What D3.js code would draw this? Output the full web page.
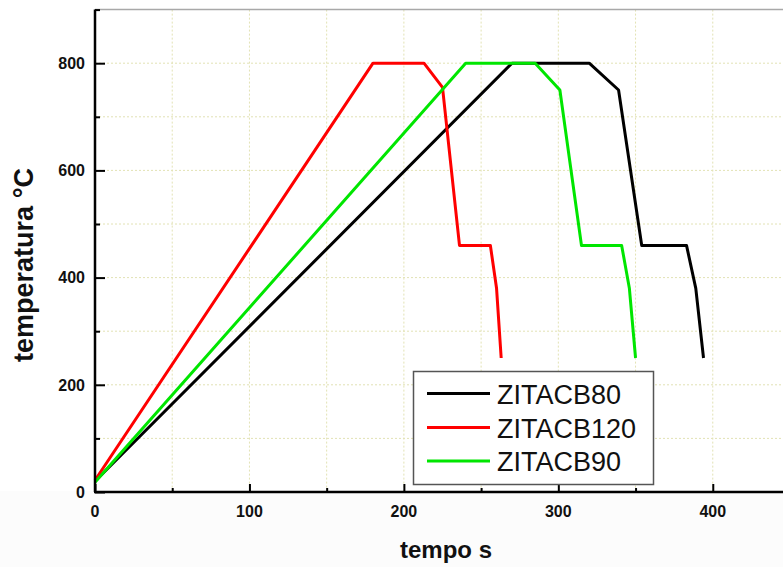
<!DOCTYPE html>
<html>
<head>
<meta charset="utf-8">
<script src="https://cdn.jsdelivr.net/npm/d3@7"></script>
<style>
  html, body { margin: 0; padding: 0; background: #ffffff; }
  svg { display: block; font-family: "Liberation Sans", Arial, sans-serif; }
</style>
</head>
<body>
<svg id="chart" width="783" height="567"></svg>
<script>
// Thermal cycles: time (s) vs temperature (°C)
const seriesNames = ["ZITACB80", "ZITACB120", "ZITACB90"];
const seriesColors = ["#000000", "#ff0000", "#00e600"];

const timeZITACB80 = [0, 270, 320, 339, 354, 383, 389, 394];
const tempZITACB80 = [20, 800, 800, 750, 460, 460, 380, 250];

const timeZITACB120 = [0, 180, 213, 225, 236, 256, 260, 263];
const tempZITACB120 = [22, 800, 800, 755, 460, 460, 380, 250];

const timeZITACB90 = [0, 240, 285, 301, 315, 341, 346, 350];
const tempZITACB90 = [18, 800, 800, 750, 460, 460, 380, 250];

const xMajorTicks = [0, 100, 200, 300, 400];
const yMajorTicks = [0, 200, 400, 600, 800];

const series = [
  { name: seriesNames[0], color: seriesColors[0], t: timeZITACB80, T: tempZITACB80 },
  { name: seriesNames[1], color: seriesColors[1], t: timeZITACB120, T: tempZITACB120 },
  { name: seriesNames[2], color: seriesColors[2], t: timeZITACB90, T: tempZITACB90 }
];

const svg = d3.select("#chart");

const x = d3.scaleLinear().domain([0, 450]).range([95, 790]);
const y = d3.scaleLinear().domain([0, 900]).range([492, 9.6]);

// faint backdrop below the plot
svg.append("rect").attr("x", 0).attr("y", 491).attr("width", 783).attr("height", 76).attr("fill", "#fcfcfc");

// dotted grid every 50 s and every 100 °C
const gridX = d3.range(50, 451, 50);
const gridY = d3.range(100, 900, 100);
const grid = svg.append("g").attr("stroke", "#e2e2b4").attr("stroke-width", 1).attr("stroke-dasharray", "2,2");
grid.selectAll("line.gx").data(gridX).join("line").attr("class", "gx")
  .attr("x1", d => x(d)).attr("x2", d => x(d)).attr("y1", y(900)).attr("y2", y(0));
grid.selectAll("line.gy").data(gridY).join("line").attr("class", "gy")
  .attr("x1", x(0)).attr("x2", x(450)).attr("y1", d => y(d)).attr("y2", d => y(d));

// top frame
svg.append("line").attr("x1", x(0)).attr("x2", x(450)).attr("y1", y(900)).attr("y2", y(900))
  .attr("stroke", "#a8a8a8").attr("stroke-width", 1.5);

// curves
const line = d3.line().x(d => x(d[0])).y(d => y(d[1]));
svg.append("g").selectAll("path").data(series).join("path")
  .attr("d", s => line(s.t.map((v, i) => [v, s.T[i]])))
  .attr("fill", "none").attr("stroke", s => s.color).attr("stroke-width", 3)
  .attr("stroke-linejoin", "round");

// axes with inward ticks
const xAxisMinor = d3.axisTop(x).tickValues(d3.range(50, 451, 100)).tickSize(4).tickFormat("");
const xAxisMajor = d3.axisTop(x).tickValues(xMajorTicks).tickSize(8).tickFormat("");
const yAxisMinor = d3.axisRight(y).tickValues(d3.range(100, 901, 200)).tickSize(5).tickFormat("");
const yAxisMajor = d3.axisRight(y).tickValues(yMajorTicks).tickSize(10).tickFormat("");

function styleAxis(g) {
  g.selectAll("path").remove();
  g.selectAll("line").attr("stroke", "#000").attr("stroke-width", 2);
}
svg.append("g").attr("transform", `translate(0,${y(0)})`).call(xAxisMinor).call(styleAxis);
svg.append("g").attr("transform", `translate(0,${y(0)})`).call(xAxisMajor).call(styleAxis);
svg.append("g").attr("transform", `translate(${x(0)},0)`).call(yAxisMinor).call(styleAxis);
svg.append("g").attr("transform", `translate(${x(0)},0)`).call(yAxisMajor).call(styleAxis);

// axis lines
svg.append("line").attr("x1", x(0) - 1).attr("x2", 783).attr("y1", y(0)).attr("y2", y(0))
  .attr("stroke", "#000").attr("stroke-width", 2.5);
svg.append("line").attr("x1", x(0)).attr("x2", x(0)).attr("y1", y(0)).attr("y2", y(900))
  .attr("stroke", "#000").attr("stroke-width", 2.5);

// tick labels
svg.append("g").selectAll("text").data(xMajorTicks).join("text")
  .attr("x", d => x(d)).attr("y", 517).attr("text-anchor", "middle")
  .attr("font-size", 16).attr("font-weight", "bold").attr("fill", "#111").text(d => d);
svg.append("g").selectAll("text").data(yMajorTicks).join("text")
  .attr("x", 85).attr("y", d => y(d) + 5.7).attr("text-anchor", "end")
  .attr("font-size", 16).attr("font-weight", "bold").attr("fill", "#111").text(d => d);

// axis titles
svg.append("text").attr("x", 446).attr("y", 558).attr("text-anchor", "middle")
  .attr("font-size", 24).attr("font-weight", "bold").attr("fill", "#111").text("tempo s");
svg.append("text").attr("transform", "translate(33,265) rotate(-90)").attr("text-anchor", "middle")
  .attr("font-size", 27).attr("font-weight", "bold").attr("fill", "#111").text("temperatura °C");

// legend
const legend = svg.append("g");
legend.append("rect").attr("x", 413.5).attr("y", 371.5).attr("width", 240).attr("height", 113)
  .attr("fill", "#ffffff").attr("stroke", "#555").attr("stroke-width", 1.5);
const rowY = [393.5, 427.5, 461];
legend.selectAll("line").data(series).join("line")
  .attr("x1", 427).attr("x2", 490).attr("y1", (d, i) => rowY[i]).attr("y2", (d, i) => rowY[i])
  .attr("stroke", d => d.color).attr("stroke-width", 3);
legend.selectAll("text").data(series).join("text")
  .attr("x", 497).attr("y", (d, i) => rowY[i] + 10).attr("font-size", 27).attr("fill", "#111")
  .text(d => d.name);
</script>
</body>
</html>
